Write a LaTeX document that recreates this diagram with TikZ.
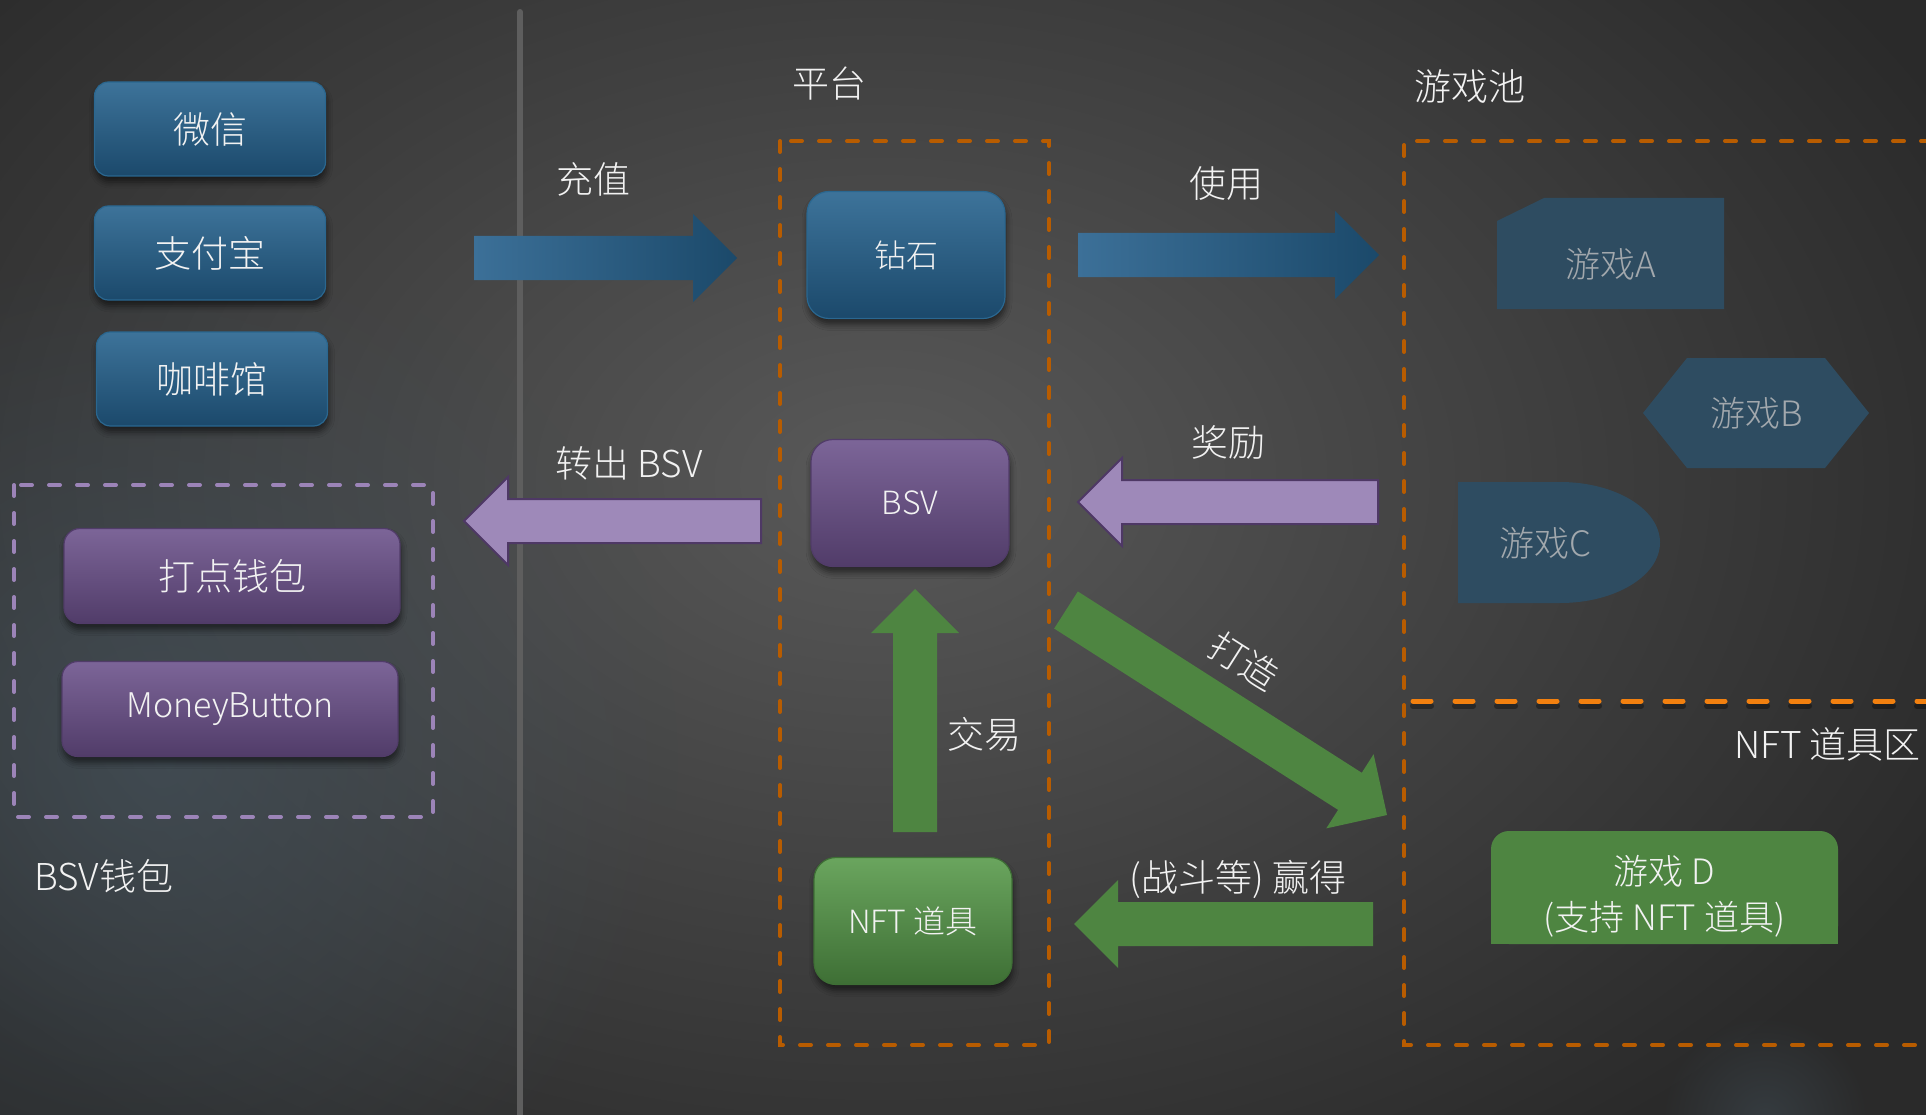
\documentclass[tikz,border=0pt]{standalone}
\usepackage{fontspec}
\IfFontExistsTF{Noto Sans CJK SC Light}
	{\setmainfont{Noto Sans CJK SC Light}}
	{\setmainfont{Noto Sans CJK SC}}
\usetikzlibrary{positioning,calc,arrows.meta,shadows,shadows.blur,fadings}

\definecolor{bgdark}{HTML}{2A2A2A}
\definecolor{bgmid}{HTML}{595959}
\definecolor{glowblue}{HTML}{44525C}
\definecolor{divider}{HTML}{5E5E5E}
\definecolor{txtwhite}{HTML}{F2F2F2}
\definecolor{bluetop}{HTML}{3D739A}
\definecolor{bluebot}{HTML}{1B496B}
\definecolor{blueedge}{HTML}{2A6790}
\definecolor{purptop}{HTML}{7C6598}
\definecolor{purpbot}{HTML}{513C69}
\definecolor{greentop}{HTML}{6AA55E}
\definecolor{greenbot}{HTML}{3E6F35}
\definecolor{arrowblueL}{HTML}{3C7098}
\definecolor{arrowblueR}{HTML}{1B496A}
\definecolor{arrowpurple}{HTML}{9E89B9}
\definecolor{arrowpurpleedge}{HTML}{4E3865}
\definecolor{arrowgreen}{HTML}{4E8541}
\definecolor{gameblue}{HTML}{2E4C61}
\definecolor{gametext}{HTML}{A2A8AD}
\definecolor{orangedash}{HTML}{B85C00}
\definecolor{orangebright}{HTML}{F2800F}
\definecolor{purpledash}{HTML}{9C84B8}

\tikzfading[name=glowfade, inner color=transparent!0, outer color=transparent!100]

\newcommand{\lblfont}{\fontsize{37}{44}\selectfont}
\newcommand{\boxfont}{\fontsize{32}{38}\selectfont}

\tikzset{
	lbl/.style={text=txtwhite, font=\lblfont, inner sep=0pt},
	btn/.style={text=txtwhite, font=\lblfont, inner sep=0pt, line width=1.2pt,
		blur shadow={shadow xshift=1pt, shadow yshift=-6pt, shadow blur radius=6pt, shadow opacity=55}},
	bluebtn/.style={btn, rounded corners=14pt, top color=bluetop, bottom color=bluebot, draw=blueedge,
		minimum width=231pt, minimum height=94pt},
	purplebtn/.style={btn, rounded corners=16pt, top color=purptop, bottom color=purpbot, draw=purpbot,
		minimum width=336pt, minimum height=95pt},
	greenbtn/.style={btn, top color=greentop, bottom color=greenbot, draw=greenbot},
	tokenbox/.style={font=\boxfont, rounded corners=22pt, minimum width=198pt, minimum height=127pt},
	fat arrow/.style={to path={
		let \p1=(\tikztostart), \p2=(\tikztotarget), \n1={atan2(\y2-\y1,\x2-\x1)} in
		($(\p1)+(\n1+90:22pt)$) -- ($(\p2)+(\n1:-44pt)+(\n1+90:22pt)$)
		-- ($(\p2)+(\n1:-44pt)+(\n1+90:44pt)$) -- (\p2)
		-- ($(\p2)+(\n1:-44pt)+(\n1-90:44pt)$) -- ($(\p2)+(\n1:-44pt)+(\n1-90:22pt)$)
		-- ($(\p1)+(\n1-90:22pt)$) -- cycle}},
	bluearrow/.style={fat arrow, left color=arrowblueL, right color=arrowblueR},
	purplearrow/.style={fat arrow, fill=arrowpurple, draw=arrowpurpleedge, line width=2pt},
	greenarrow/.style={fat arrow, fill=arrowgreen},
	dashbox/.style={line width=4pt, line cap=round, dash pattern=on 11pt off 17pt},
	gamelbl/.style={text=gametext, font=\fontsize{35}{40}\selectfont, inner sep=0pt},
}

\begin{document}
\begin{tikzpicture}[x=1pt, y=-1pt]
	\useasboundingbox (0,0) rectangle (1926,1115);

	% background
	\fill[bgdark] (0,0) rectangle (1926,1115);
	\shade[inner color=bgmid, outer color=bgdark] (-320,-340) rectangle (2080,1300);
	\fill[glowblue, path fading=glowfade, opacity=0.7] (160,760) circle[radius=520pt];
	\fill[glowblue, path fading=glowfade, opacity=0.45] (1765,1120) circle[radius=105pt];
	\draw[divider, line width=6pt, line cap=round] (520,12) -- (520,1140);

	% areas
	\draw[orangedash, dashbox] (780,141) rectangle (1049,1045);
	\draw[orangedash, dashbox] (1960,141) -- (1404,141) -- (1404,1045) -- (1960,1045);
	\draw[purpledash, dashbox] (14,485) rectangle (433,817);
	\draw[black, opacity=0.35, line width=6pt, line cap=round, dash pattern=on 18pt off 24pt] (1413,706) -- (1960,706);
	\draw[orangebright, line width=5pt, line cap=round, dash pattern=on 18pt off 24pt] (1413,701) -- (1960,701);

	% arrows
	\coordinate (charge s) at (474,258);
	\coordinate (charge e) at (737,258);
	\coordinate (use s) at (1078,255);
	\coordinate (use e) at (1379,255);
	\coordinate (reward s) at (1378,502);
	\coordinate (reward e) at (1078,502);
	\coordinate (out s) at (761,521);
	\coordinate (out e) at (464,521);
	\coordinate (trade s) at (915,832);
	\coordinate (trade e) at (915,589);
	\coordinate (forge s) at (1066,610);
	\coordinate (forge e) at (1387,815);
	\coordinate (win s) at (1373,924);
	\coordinate (win e) at (1074,924);

	\path[bluearrow] (charge s) to (charge e);
	\path[bluearrow] (use s) to (use e);
	\path[purplearrow] (reward s) to (reward e);
	\path[purplearrow] (out s) to (out e);
	\path[greenarrow] (trade s) to (trade e);
	\path[greenarrow] (forge s) to (forge e);
	\path[greenarrow] (win s) to (win e);

	% payment
	\node[bluebtn] (wechat) at (210,129) {微信};
	\node[bluebtn] (alipay) at (210,253) {支付宝};
	\node[bluebtn] (cafe) at (212,379) {咖啡馆};

	% wallets
	\node[purplebtn] (dotwallet) at (232,576) {打点钱包};
	\node[purplebtn, font=\fontsize{34}{40}\selectfont] (moneybtn) at (230,709) {MoneyButton};
	\node[lbl, anchor=west] (walletlbl) at (34,876) {BSV钱包};

	% platform
	\node[bluebtn, tokenbox] (diamond) at (906,255) {钻石};
	\node[purplebtn, tokenbox] (bsv) at (910,503) {BSV};
	\node[greenbtn, tokenbox] (nft) at (913,921) {NFT 道具};

	% game pool
	\fill[gameblue] (1497,221) -- (1544,198) -- (1724,198) -- (1724,309) -- (1497,309) -- cycle;
	\fill[gameblue] (1643,413) -- (1687,358) -- (1825,358) -- (1869,413) -- (1825,468) -- (1687,468) -- cycle;
	\fill[gameblue] (1458,482) -- (1560,482) arc[start angle=90, end angle=-90, x radius=100pt, y radius=60.5pt]
		-- (1458,603) -- cycle;
	\node[gamelbl] (gameA) at (1611,264) {游戏A};
	\node[gamelbl] (gameB) at (1757,413) {游戏B};
	\node[gamelbl] (gameC) at (1545,543) {游戏C};

	\fill[arrowgreen] (1491,890) rectangle (1838,944);
	\node[fill=arrowgreen, rounded corners=18pt, minimum width=347pt, minimum height=113pt] (gameD) at (1664.5,887.5) {};
	\node[text=txtwhite, align=center, inner sep=0pt, font=\fontsize{35}{46}\selectfont] (gameDlbl) at (1664.5,896)
		{游戏 D\\(支持 NFT 道具)};

	% labels
	\node[lbl] (platformlbl) at (829,84) {平台};
	\node[lbl] (poollbl) at (1470,87) {游戏池};
	\node[lbl] (chargelbl) at (593,179) {充值};
	\node[lbl] (uselbl) at (1226,184) {使用};
	\node[lbl] (outlbl) at (629,463) {转出 BSV};
	\node[lbl] (rewardlbl) at (1228,442) {奖励};
	\node[lbl] (tradelbl) at (984,734) {交易};
	\node[lbl, rotate=-32.5] (forgelbl) at (1244,661) {打造};
	\node[lbl] (winlbl) at (1238,879) {(战斗等) 赢得};
	\node[lbl, anchor=east] (nftzonelbl) at (1921,744) {NFT 道具区};
\end{tikzpicture}
\end{document}
